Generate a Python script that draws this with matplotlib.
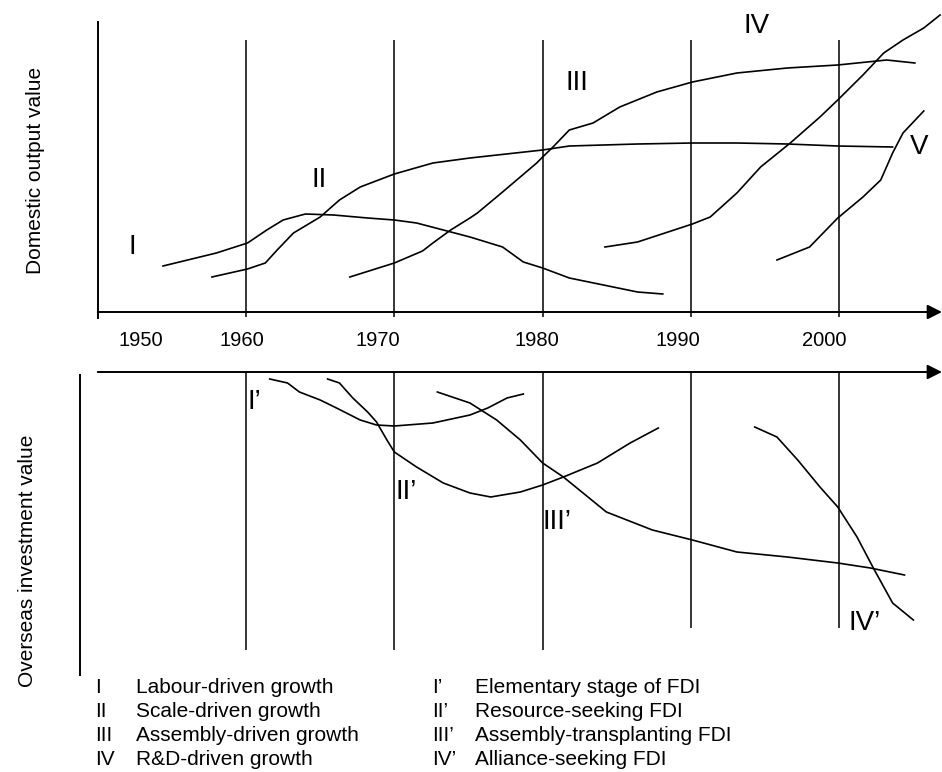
import numpy as np
import matplotlib
matplotlib.use('Agg')
import matplotlib.pyplot as plt

plt.rcParams['font.family'] = ['Liberation Sans', 'DejaVu Sans']

# decade lines and year labels
decades = [1960, 1970, 1980, 1990, 2000]
year_labels = ['1950', '1960', '1970', '1980', '1990', '2000']
year_label_x = [1952.9, 1959.7, 1968.9, 1979.6, 1989.1, 1999.0]

### top panel: domestic output value (arbitrary units above the time axis)
yr_I = [1954.4, 1958.0, 1960.1, 1961.4, 1962.5, 1964.0, 1965.9, 1968.2, 1970.0, 1971.5,
        1975.1, 1977.3, 1978.7, 1980.0, 1981.8, 1984.1, 1986.4, 1988.1]
val_I = [46, 59, 69, 82, 92, 98, 97, 94, 92, 89, 75, 65, 50, 44, 34, 27, 20, 18]

yr_II = [1957.7, 1960.1, 1961.3, 1962.1, 1963.2, 1965.0, 1966.3, 1967.7, 1970.0, 1972.6,
         1975.1, 1980.0, 1981.8, 1986.4, 1990.1, 1993.1, 1996.5, 1999.9, 2003.6]
val_II = [35, 43, 49, 62, 79, 95, 112, 125, 138, 149, 154, 162, 166, 168, 169, 169, 168, 166, 165]

yr_III = [1967.0, 1970.0, 1971.9, 1972.6, 1973.8, 1975.1, 1975.6, 1977.3, 1979.6, 1980.0,
          1980.7, 1981.8, 1983.4, 1985.2, 1987.7, 1990.1, 1993.1, 1996.5, 1999.9, 2003.2, 2005.1]
val_III = [35, 49, 61, 69, 82, 94, 99, 120, 149, 155, 165, 182, 189, 205, 220, 230, 239, 244,
           247, 252, 249]

yr_IV = [1984.2, 1986.4, 1990.1, 1991.3, 1993.1, 1994.7, 1996.7, 1998.7, 1999.9, 2001.6,
         2003.0, 2004.3, 2005.7, 2006.8]
val_IV = [65, 70, 88, 95, 119, 145, 169, 195, 212, 237, 259, 272, 284, 297]

yr_V = [1995.8, 1998.0, 1999.9, 2001.6, 2002.8, 2003.6, 2004.3, 2005.7]
val_V = [52, 65, 94, 115, 132, 159, 179, 201]

### bottom panel: overseas investment value (depth below the time axis)
yr_I2 = [1961.6, 1962.8, 1963.6, 1965.0, 1966.1, 1967.7, 1968.8, 1970.0, 1972.6, 1975.1,
         1976.3, 1977.6, 1978.7]
val_I2 = [7, 11, 20, 28, 36, 48, 53, 54, 51, 43, 36, 26, 22]

yr_II2 = [1965.5, 1966.3, 1967.2, 1968.2, 1968.8, 1969.5, 1970.0, 1971.5, 1973.3, 1975.1,
          1976.5, 1978.5, 1980.0, 1981.4, 1983.7, 1985.9, 1987.8]
val_II2 = [7, 11, 26, 40, 50, 68, 80, 95, 111, 121, 125, 120, 113, 105, 91, 71, 56]

yr_III2 = [1972.9, 1975.1, 1976.9, 1978.5, 1980.0, 1981.4, 1984.3, 1987.4, 1990.1, 1993.1,
           1996.5, 1999.9, 2002.1, 2004.4]
val_III2 = [20, 31, 48, 68, 91, 105, 140, 158, 168, 180, 185, 191, 196, 203]

yr_IV2 = [1994.3, 1995.8, 1997.2, 1998.7, 1999.9, 2001.2, 2002.3, 2003.6, 2005.0]
val_IV2 = [55, 65, 88, 115, 135, 165, 196, 231, 248]

# legend entries
left_num = ['I', 'II', 'III', 'IV']
left_txt = ['Labour-driven growth', 'Scale-driven growth', 'Assembly-driven growth',
            'R&D-driven growth']
right_num = ['I\u2019', 'II\u2019', 'III\u2019', 'IV\u2019']
right_txt = ['Elementary stage of FDI', 'Resource-seeking FDI',
             'Assembly-transplanting FDI', 'Alliance-seeking FDI']

W, H = 942, 772
fig = plt.figure(figsize=(W / 100, H / 100), dpi=100)
fig.patch.set_facecolor('white')

x_lo, x_hi = 1943.41, 2006.93
lw_c = 1.2   # curves
lw_a = 1.4   # axes

# top panel
ax1 = fig.add_axes([0, 1 - 360 / H, 1, 360 / H])
ax1.set_xlim(x_lo, x_hi)
ax1.set_ylim(-48, 312)
ax1.axis('off')
ax1.plot([1950, 1950], [-6, 290], color='k', lw=lw_a)
ax1.annotate('', xy=(x_hi, 0), xytext=(1950, 0),
             arrowprops=dict(arrowstyle='-|>', mutation_scale=22, color='k', lw=lw_a,
                             shrinkA=0, shrinkB=0))
ax1.vlines(decades, -5, 272, color='k', lw=1.1)
for yr, lab in zip(year_label_x, year_labels):
    ax1.text(yr, -29, lab, ha='center', va='center', fontsize=14.5)
for x, y in [(yr_I, val_I), (yr_II, val_II), (yr_III, val_III), (yr_IV, val_IV), (yr_V, val_V)]:
    ax1.plot(x, y, color='k', lw=lw_c)
ax1.text(1952.3, 65, 'I', ha='center', va='center', fontsize=20)
ax1.text(1964.9, 132, 'II', ha='center', va='center', fontsize=20)
ax1.text(1982.3, 229, 'III', ha='center', va='center', fontsize=20)
ax1.text(1994.4, 286, 'IV', ha='center', va='center', fontsize=20)
ax1.text(2005.4, 165, 'V', ha='center', va='center', fontsize=20)

# bottom panel
ax2 = fig.add_axes([0, 0, 1, 412 / H])
ax2.set_xlim(x_lo, x_hi)
ax2.set_ylim(400, -12)
ax2.axis('off')
ax2.annotate('', xy=(x_hi, 0), xytext=(1950, 0),
             arrowprops=dict(arrowstyle='-|>', mutation_scale=22, color='k', lw=lw_a,
                             shrinkA=0, shrinkB=0))
ax2.plot([1948.8, 1948.8], [3, 303], color='k', lw=lw_a)
ax2.vlines(decades[:3], 0, 278, color='k', lw=1.1)
ax2.vlines(decades[3:], 0, 256, color='k', lw=1.1)
for x, y in [(yr_I2, val_I2), (yr_II2, val_II2), (yr_III2, val_III2), (yr_IV2, val_IV2)]:
    ax2.plot(x, y, color='k', lw=lw_c)
ax2.text(1960.1, 30, 'I\u2019', ha='left', va='center', fontsize=20)
ax2.text(1970.1, 120, 'II\u2019', ha='left', va='center', fontsize=20)
ax2.text(1980.0, 150, 'III\u2019', ha='left', va='center', fontsize=20)
ax2.text(2000.6, 251, 'IV\u2019', ha='left', va='center', fontsize=20)

# axis titles
fig.text(36 / W, 1 - 170 / H, 'Domestic output value', rotation=90,
         ha='center', va='center', fontsize=15)
fig.text(28 / W, 1 - 561 / H, 'Overseas investment value', rotation=90,
         ha='center', va='center', fontsize=15)

# legend
base_y = [693, 717, 741, 765]
for i in range(4):
    fy = 1 - base_y[i] / H
    fig.text(95 / W, fy, left_num[i], ha='left', va='baseline', fontsize=15)
    fig.text(136 / W, fy, left_txt[i], ha='left', va='baseline', fontsize=15)
    fig.text(432 / W, fy, right_num[i], ha='left', va='baseline', fontsize=15)
    fig.text(475 / W, fy, right_txt[i], ha='left', va='baseline', fontsize=15)

plt.savefig('out.png', dpi=100)
